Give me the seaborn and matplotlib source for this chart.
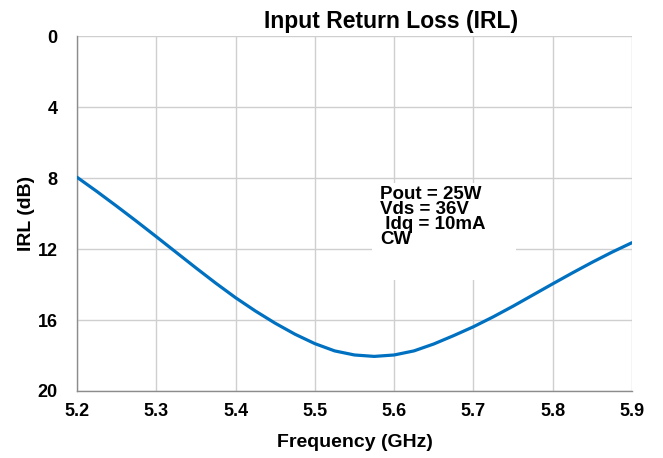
import numpy as np
import pandas as pd
import matplotlib
matplotlib.use("Agg")
import matplotlib.pyplot as plt
from matplotlib.patches import Rectangle
import seaborn as sns

# values
freq_ghz = [5.200, 5.225, 5.250, 5.275, 5.300, 5.325, 5.350, 5.375, 5.400,
            5.425, 5.450, 5.475, 5.500, 5.525, 5.550, 5.575, 5.600, 5.625,
            5.650, 5.675, 5.700, 5.725, 5.750, 5.775, 5.800, 5.825, 5.850,
            5.875, 5.900]
irl_db = [7.95, 8.75, 9.58, 10.43, 11.30, 12.18, 13.06, 13.92, 14.74,
          15.49, 16.18, 16.80, 17.33, 17.74, 17.97, 18.05, 17.97, 17.74,
          17.35, 16.88, 16.38, 15.82, 15.22, 14.59, 13.96, 13.34, 12.74,
          12.17, 11.64]

x_ticks = [5.2, 5.3, 5.4, 5.5, 5.6, 5.7, 5.8, 5.9]
y_ticks = [0, 4, 8, 12, 16, 20]
note_lines = ["Pout = 25W", "Vds = 36V", " Idq = 10mA", "CW"]

df = pd.DataFrame({"Frequency (GHz)": freq_ghz, "IRL (dB)": irl_db})

sns.set_style("white")
plt.rcParams["font.family"] = ["Liberation Sans", "DejaVu Sans"]
plt.rcParams["font.weight"] = "bold"
plt.rcParams["text.color"] = "black"
plt.rcParams["axes.labelcolor"] = "black"
plt.rcParams["xtick.color"] = "black"
plt.rcParams["ytick.color"] = "black"

fig = plt.figure(figsize=(6.63, 4.58), dpi=100)
ax = fig.add_axes([0.1161, 0.1463, 0.8371, 0.7747])

sns.lineplot(data=df, x="Frequency (GHz)", y="IRL (dB)", ax=ax,
             color="#0070C0", linewidth=2.3, zorder=3)

ax.set_xlim(5.2, 5.9)
ax.set_ylim(20, 0)
ax.set_xticks(x_ticks)
ax.set_yticks(y_ticks)
ax.set_xticklabels([f"{t:.1f}" for t in x_ticks], fontsize=13, fontweight="bold")
ax.set_yticklabels([str(t) for t in y_ticks], fontsize=13, fontweight="bold")
ax.tick_params(axis="x", length=0, pad=9)
ax.tick_params(axis="y", length=0, pad=14)
ax.grid(True, color="#cfcfcf", linewidth=1.0, zorder=0)
ax.set_axisbelow(True)

for side in ["top", "right"]:
    ax.spines[side].set_visible(False)
for side in ["left", "bottom"]:
    ax.spines[side].set_color("#8c8c8c")
    ax.spines[side].set_linewidth(1.0)

ax.set_xlabel("Frequency (GHz)", fontsize=14, fontweight="bold", labelpad=10)
ax.set_ylabel("IRL (dB)", fontsize=14, fontweight="bold", labelpad=2)

# white box behind the conditions note
ax.add_patch(Rectangle((5.572, 8.3), 0.182, 5.45, facecolor="white",
                       edgecolor="none", zorder=2))
ax.text(5.582, 8.45, "\n".join(note_lines), fontsize=13.5, fontweight="bold",
        va="top", ha="left", linespacing=0.84, zorder=4)

fig.text(0.5905, 0.953, "Input Return Loss (IRL)", fontsize=16.5,
         fontweight="bold", ha="center", va="center")

fig.savefig("out.png", dpi=100, facecolor="white")
